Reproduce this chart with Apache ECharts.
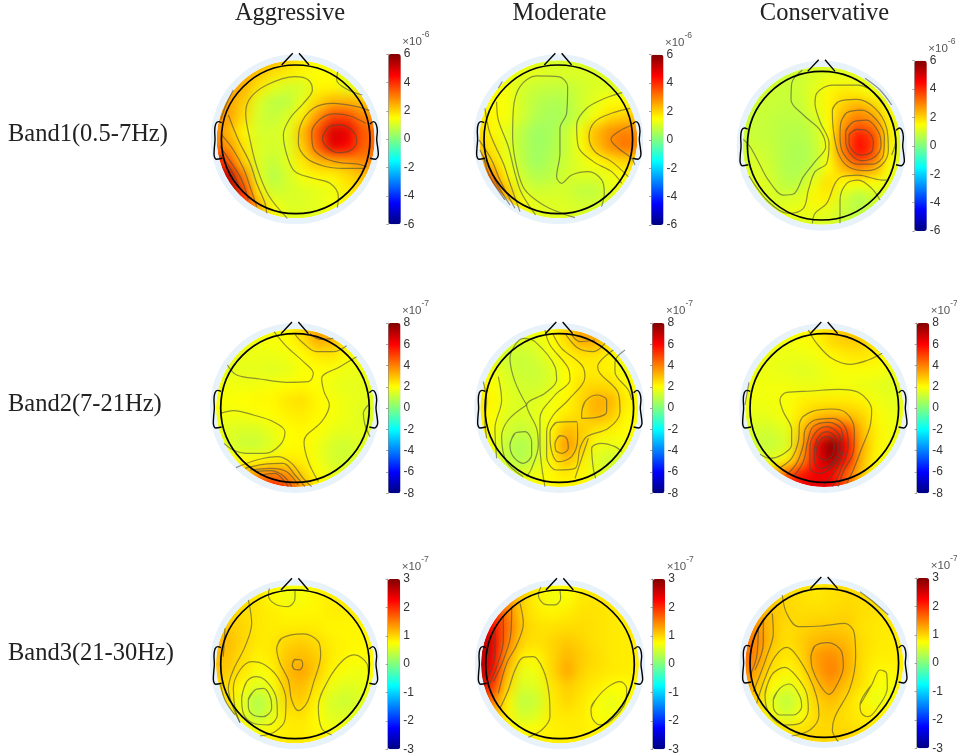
<!DOCTYPE html>
<html><head><meta charset="utf-8">
<style>html,body{margin:0;padding:0;background:#fff}#c{width:957px;height:756px}</style>
<script src="https://cdn.jsdelivr.net/npm/echarts@6/dist/echarts.min.js"></script>
</head><body><div id="c"></div>
<script>
var columnTitles=['Aggressive','Moderate','Conservative'];
var bandTitles=['Band1(0.5-7Hz)','Band2(7-21Hz)','Band3(21-30Hz)'];
var bandRanges=[6,8,3];
var bandTickSteps=[2,2,1];
var bandExponents=['-6','-7','-7'];

var map1=[[2.4,2.4,2.5,2.5,2.4,2.1,1.7,1.4,1.2,1.0,1.0,1.0],[2.6,2.6,2.6,2.2,1.9,1.7,1.6,1.5,1.5,1.2,1.0,1.0],[2.7,2.7,2.4,1.8,1.2,1.0,1.0,1.6,1.6,1.2,1.2,1.2],[2.8,2.6,2.1,1.1,.7,.7,1.3,2.0,2.4,2.4,2.2,2.2],[2.9,2.6,1.9,1.0,.8,1.1,1.7,2.8,3.7,3.7,3.0,2.6],[3.0,2.3,1.6,1.0,1.0,1.2,2.3,3.6,5.0,4.8,3.5,3.2],[3.2,2.7,1.8,1.1,1.0,1.1,2.1,3.4,4.8,4.5,3.4,3.2],[4.5,3.5,2.0,1.1,.8,1.2,1.8,2.3,2.5,2.6,2.9,3.0],[5.5,5.2,3.0,1.2,.6,1.0,1.4,1.6,1.6,1.9,2.2,2.4],[6,5.8,3.8,1.7,.9,1.0,1.1,1.2,1.3,1.7,2,2],[6,5.5,4.2,2.4,1.4,1.1,1.1,1.2,1.4,1.6,1.6,1.6],[5,5,4,2.6,1.6,1.2,1.2,1.2,1.4,1.5,1.5,1.5]];
var map2=[[1.2,1.2,1.2,1.2,1.1,1,1,1,1,1,1,1],[1.3,1.3,1.3,1.3,1.2,1.1,1.1,1.1,1.1,1.1,1.1,1.1],[1.5,1.5,1.4,1.0,.85,.8,.8,.95,1.1,1.1,1.1,1.1],[1.6,1.5,1.4,1.0,.7,.55,.6,.95,1.2,1.5,1.5,1.4],[1.7,1.6,1.4,1.0,.6,.45,.55,.9,1.4,1.9,2.1,2.1],[2,1.6,1.2,.7,.35,.45,.8,1.4,2.3,2.8,3.0,2.8],[2.2,1.8,1.2,.7,.35,.5,.8,1.4,2.2,2.8,3.2,2.9],[2.7,2.0,1.3,.75,.35,.6,.9,1.2,1.5,1.8,2.0,1.9],[4,3,1.6,.95,.6,.7,1.0,1.1,1.1,1.3,1.5,1.5],[4.6,3.8,2.2,1.2,.95,1.0,1.0,.75,.75,1.2,1.3,1.3],[3.6,3,2.4,1.6,1.2,1.1,1.1,1.0,1.0,1.1,1.1,1.1],[2,2,1.8,1.4,1.2,1.2,1.2,1.1,1.1,1.1,1.1,1.1]];
var map3=[[1,1,1,1,1,1,1,1,.95,.9,.9,.9],[1,1,.95,.9,.9,1.1,1.3,1.3,1.2,1.0,.9,.9],[.95,.95,.9,.85,.9,1.2,1.6,1.8,1.7,1.4,1,.9],[.9,.9,.85,.8,.8,1.2,1.6,2.2,2.6,2.2,1.4,1],[.9,.85,.8,.7,.7,.9,1.5,2.7,3.3,3.0,1.7,1.1],[.9,.85,.8,.65,.6,.8,1.5,3.1,4.4,3.8,1.7,1.1],[.9,1.0,.85,.65,.5,.7,1.4,3.1,4.4,3.7,1.6,1],[1,1.1,.95,.6,.55,.8,1.5,2.4,3,2.6,1.5,1],[1.1,1.2,1.05,.7,.7,1.3,1.9,1.5,1.5,1.5,1.2,1],[1.1,1.2,1.1,1.0,1.1,1.6,1.7,1.0,.6,.9,1.1,1],[1,1,1,1.3,1.3,1.3,1.2,.85,.7,.85,.85,.85],[.9,.9,.9,1,1,1,1,.9,.85,.85,.85,.85]];
var map4=[[1.8,1.8,1.8,1.8,1.9,2.1,2.7,3.5,3.5,2.7,2.1,2.1],[1.8,1.8,1.8,1.8,1.9,2,2.4,3.3,3.1,2.3,2,2],[1.8,1.7,1.7,1.7,1.7,1.8,2,2.3,2.4,2,1.8,1.8],[1.8,1.6,1.6,1.6,1.5,1.6,1.9,2,1.9,1.7,1.7,1.7],[1.9,1.8,1.8,1.8,1.9,2,2.1,2,1.7,1.6,1.6,1.6],[1.9,1.9,2,2.1,2.1,2.4,2.5,2.1,1.9,1.7,1.6,1.5],[1.9,1.8,1.8,1.9,2,2.2,2.3,2.1,1.9,1.7,1.5,1.4],[1.8,1.5,1.4,1.4,1.7,2,2.1,2,1.7,1.6,1.6,1.5],[1.8,1.5,1.15,1.15,1.5,2,2.1,1.8,1.35,1.25,1.5,1.6],[2,2,2,2,2.2,2.3,2.2,1.8,1.35,1.25,1.6,1.7],[2.6,2.6,3.1,3.7,4.1,3.7,2.7,2,1.6,1.6,1.8,1.8],[4,4,4.6,5.2,5.8,5.2,3.6,2.3,1.9,1.9,1.9,1.9]];
var map5=[[1.9,1.9,1.9,1.9,1.9,2.1,2.7,3.5,3.7,2.9,2.1,2.1],[1.9,1.9,1.6,1.5,1.6,2,2.5,3.3,3.3,2.4,2.1,2.1],[2,1.7,1.15,1.15,1.35,1.8,2.2,2.4,2.4,2.1,1.8,1.9],[2.1,1.8,1.35,1.15,1.15,1.45,2,2.2,2.3,2.2,1.7,1.9],[2.2,2,1.5,1.3,1.25,1.5,2,2.5,2.6,2.5,2.1,1.9],[2.4,2.1,1.6,1.4,1.5,1.8,2.1,2.6,3.3,3.2,2.3,1.9],[2.4,2,1.5,1.4,1.6,1.9,2.3,2.6,3.2,2.9,2.1,1.9],[2.3,1.9,1.3,1.1,1.4,2.1,3.1,2.8,2.4,2.2,2,1.9],[2.2,1.8,1,.7,1.2,2.3,3.7,2.8,1.8,1.7,1.8,1.9],[2.1,1.8,1.1,.8,1.3,2.2,3.1,2.3,1.5,1.2,1.4,1.7],[2.1,2,1.5,1.5,1.8,2.1,2.3,2.1,1.6,1.4,1.6,1.7],[2.1,2.1,2,2,2,2.1,2.1,2.1,2,2,1.9,1.9]];
var map6=[[1.9,1.9,1.9,1.9,2,2.3,2.6,2.9,2.9,2.5,2.1,2.1],[1.8,1.8,1.8,1.8,1.9,2.1,2.6,2.8,2.8,2.4,2.1,2.1],[1.8,1.8,1.7,1.7,1.7,1.8,2.1,2.3,2.4,2.2,1.9,1.9],[1.8,1.7,1.7,1.6,1.5,1.6,1.8,1.9,1.9,1.9,1.7,1.7],[1.8,1.8,1.8,1.8,1.7,1.7,1.8,1.8,1.7,1.6,1.5,1.6],[1.8,1.8,1.8,1.9,2.2,2.3,2.3,2.3,2.2,1.8,1.6,1.6],[1.7,1.6,1.7,1.9,2.4,2.9,3.1,3,2.7,2.1,1.7,1.7],[1.6,1.3,1.3,1.6,2.9,4.6,5.2,5,3.1,2.2,1.8,1.7],[1.5,1.1,1.1,1.4,3.3,6.2,8,6.2,3.3,2.2,1.8,1.7],[1.7,1.6,1.6,2.1,3.7,6.2,7.5,5.8,3.1,2.1,1.6,1.5],[2.1,2.1,3.1,4.6,5.7,6.2,6,4.5,2.9,1.8,1.2,1.2],[3,3,4,5.6,6.4,6.6,6.2,4.6,3.1,2,1.5,1.5]];
var map7=[[.9,.9,.9,.9,.8,.7,.7,.8,.85,.85,.85,.85],[.95,.95,.95,.9,.75,.65,.7,.8,.85,.85,.85,.85],[1.0,1.0,.95,.9,.85,.8,.8,.8,.85,.85,.85,.85],[1.1,1.05,1.0,.88,.85,.85,.85,.85,.8,.8,.8,.8],[1.2,1.15,1.0,.88,.88,1.0,1.05,.95,.85,.8,.8,.8],[1.15,1.1,.95,.82,.88,1.1,1.15,1.05,.85,.8,.75,.8],[1.1,1.05,.9,.7,.8,1.15,1.3,1.05,.8,.7,.65,.75],[1.0,.95,.75,.55,.7,1.1,1.15,.9,.65,.55,.6,.75],[.95,.9,.6,.25,.55,1.0,1.05,.8,.5,.45,.55,.7],[.92,.9,.65,.35,.6,.88,.92,.75,.55,.55,.65,.75],[.9,.88,.8,.7,.8,.85,.85,.8,.7,.7,.75,.8],[.88,.88,.88,.88,.88,.88,.88,.88,.85,.85,.85,.85]];
var map8=[[1.6,1.6,1.4,1.1,.9,.78,.78,.8,.85,.85,.85,.85],[1.9,1.8,1.4,1.0,.8,.65,.72,.88,.9,.9,.85,.85],[2.2,2.0,1.5,1.0,.85,.8,.85,.92,.92,.88,.85,.85],[2.5,2.2,1.6,1.05,.92,.92,.95,.95,.92,.88,.85,.85],[2.8,2.4,1.5,1.0,.92,1.0,1.08,1.0,.92,.88,.85,.85],[2.8,2.3,1.3,.82,.8,1.0,1.18,1.05,.95,.88,.85,.85],[2.8,2.2,1.1,.62,.68,.98,1.28,1.0,.92,.88,.85,.82],[2.6,1.9,.95,.52,.58,.9,1.05,.92,.85,.75,.75,.8],[2.2,1.5,.8,.35,.45,.85,1.0,.88,.72,.62,.72,.8],[1.7,1.2,.8,.48,.58,.85,.88,.85,.72,.68,.75,.85],[1.3,1.0,.85,.75,.78,.82,.85,.85,.82,.82,.82,.85],[.95,.95,.85,.85,.85,.85,.85,.85,.85,.85,.85,.85]];
var map9=[[1.05,1.05,1,.95,.92,.88,.92,.95,.95,.95,.92,.92],[1.2,1.1,1.05,.95,.92,.88,.92,.95,.95,.92,.92,.92],[1.4,1.25,1.1,1,.95,.95,.95,1,.95,.92,.88,.88],[1.5,1.4,1.1,.95,1,1.05,1.05,1.05,.92,.88,.88,.88],[1.6,1.45,1.1,.92,1.05,1.15,1.2,1.15,.95,.88,.85,.85],[1.7,1.4,1,.88,1,1.35,1.42,1.25,.95,.85,.85,.85],[1.6,1.25,.92,.78,.92,1.3,1.52,1.25,.95,.8,.8,.85],[1.4,1.1,.75,.6,.8,1.15,1.35,1.1,.92,.72,.68,.8],[1.25,.98,.58,.35,.62,1.02,1.15,.98,.8,.62,.72,.85],[1.1,.98,.68,.48,.72,.98,1.02,.92,.85,.8,.85,.92],[1.02,1.02,.98,.88,.92,.98,.98,.98,.92,.92,.92,.92],[.98,.98,.98,.98,.98,.98,.98,.98,.92,.92,.92,.92]];

var contour1=[
[[262,535],[205,465],[170,380],[150,300],[137,220],[150,175],[200,135],[285,110],[325,120],[337,150],[310,190],[270,235],[250,285],[262,350],[285,395],[340,415],[390,430],[415,470],[412,503]],
[[413,95],[410,120],[445,150],[487,165]],
[[367,295],[385,262],[420,255],[460,275],[470,305],[450,332],[415,338],[385,325],[367,295]],
[[497,250],[450,228],[405,222],[360,238],[335,280],[340,325],[375,355],[420,368],[470,372],[500,380]],
[[508,212],[470,200],[400,190],[340,205],[300,260],[295,310],[320,355],[370,378],[430,385],[490,385]],
[[85,225],[115,300],[150,370],[170,430],[195,490],[200,520]],
[[65,285],[100,330],[130,385],[150,440],[170,500]],
[[60,320],[95,370],[125,420],[145,480]],
[[60,345],[90,385],[120,445]],
[[100,150],[80,190],[62,240]]];
var contour2=[
[[330,533],[290,520],[235,495],[180,450],[155,380],[143,290],[145,210],[165,140],[215,108],[280,110],[308,140],[305,220],[285,265],[285,340],[275,410],[290,430],[320,405],[370,395],[410,420],[418,460],[410,500]],
[[472,158],[420,175],[365,205],[335,255],[340,320],[385,365],[440,395],[470,430]],
[[495,205],[440,220],[390,245],[372,290],[390,335],[440,365],[490,410]],
[[502,255],[460,275],[438,298],[460,325],[500,355],[510,375]],
[[95,185],[100,240],[130,320],[150,400],[170,460],[212,525]],
[[60,205],[75,280],[115,370],[135,430],[165,515]],
[[42,300],[80,360],[105,420],[150,505]],
[[45,330],[75,390],[100,440],[135,495]],
[[55,350],[75,410],[120,480]],
[[112,125],[100,145]]];
var contour3=[
[[232,90],[200,130],[198,180],[235,225],[285,270],[302,320],[270,365],[235,410],[205,462],[175,465],[130,420],[100,365],[75,320],[55,298]],
[[500,345],[512,300],[495,230],[460,170],[400,135],[320,135],[275,160],[270,190],[285,245],[312,310],[305,370],[270,395],[250,450],[235,505],[190,520],[130,485],[72,408]],
[[262,550],[270,520],[305,490],[330,430],[350,410],[400,405],[470,420],[490,420]],
[[345,550],[345,480],[365,430],[400,420],[440,445],[465,480]],
[[322,210],[340,185],[395,178],[450,205],[485,265],[490,330],[470,375],[425,392],[370,380],[340,340],[325,270],[322,210]],
[[347,250],[365,218],[410,210],[455,240],[478,290],[475,345],[445,372],[395,372],[355,340],[345,290],[347,250]],
[[362,275],[385,245],[425,240],[460,275],[468,315],[450,350],[410,362],[375,340],[362,300],[362,275]],
[[372,285],[395,268],[425,272],[445,305],[440,335],[410,345],[385,335],[372,305],[372,285]],
[[420,115],[465,150],[500,195]]];
var contour4=[
[[222,80],[260,125],[310,170],[340,205],[325,230],[260,232],[180,222],[110,210],[82,180]],
[[285,88],[310,115],[350,140],[400,140],[440,122]],
[[330,85],[360,103],[400,100]],
[[470,155],[420,185],[365,220],[372,260],[388,300],[365,350],[320,390],[312,410],[325,470],[355,530]],
[[505,300],[490,325],[495,360],[510,395]],
[[62,325],[100,317],[160,330],[220,350],[255,380],[240,420],[195,445],[140,445],[100,435],[72,415]],
[[108,488],[170,465],[235,455],[275,475],[310,520],[335,545]],
[[135,490],[190,478],[250,475],[285,510],[315,545]],
[[150,495],[210,490],[260,500],[295,540]],
[[165,500],[210,497],[250,512],[275,545]],
[[180,510],[225,505],[255,530],[265,545]]];
var contour5=[
[[185,300],[150,230],[135,160],[150,120],[175,100],[210,110],[270,185],[275,225],[240,265],[185,300],[215,370],[220,420],[200,490],[185,515]],
[[185,300],[130,345],[110,395],[125,470],[175,515]],
[[240,75],[255,120],[310,190],[315,225],[270,270],[225,340],[225,420],[240,545]],
[[265,90],[290,130],[350,180],[360,215],[310,285],[265,330],[245,380],[245,455],[275,495],[330,490],[345,430],[365,395],[430,370],[465,320],[460,265],[405,205],[398,185],[445,135]],
[[350,325],[360,290],[395,270],[425,285],[425,320],[390,338],[350,340],[350,325]],
[[255,380],[275,352],[335,350],[338,400],[320,455],[280,470],[258,430],[255,380]],
[[270,415],[285,392],[305,400],[310,430],[290,445],[272,435],[270,415]],
[[135,420],[150,385],[180,380],[200,410],[200,450],[175,475],[145,455],[135,420]],
[[300,85],[340,130],[385,140],[420,115]],
[[318,85],[345,110],[390,105]],
[[480,135],[450,170],[450,200],[490,255],[500,285]],
[[392,520],[385,490],[380,430],[410,415],[450,425],[470,440]],
[[100,215],[110,285],[90,370],[95,460]],
[[55,230],[65,290],[60,350],[65,400]],
[[370,400],[345,475],[330,520]]];
var contour6=[
[[250,75],[275,115],[320,160],[375,178],[430,165],[472,145]],
[[105,448],[135,460],[170,450],[200,420],[200,375],[175,320],[165,285],[185,262],[260,258],[340,253],[400,262],[440,315],[435,365],[410,430],[385,495],[365,535]],
[[165,488],[200,460],[220,410],[225,350],[260,320],[320,312],[365,325],[388,375],[385,440],[355,500],[340,545]],
[[185,510],[215,475],[235,420],[240,375],[270,345],[325,340],[360,365],[370,420],[345,500],[322,545]],
[[205,515],[235,470],[248,410],[265,365],[310,352],[350,375],[355,430],[335,490],[295,540]],
[[255,490],[255,430],[270,385],[305,365],[340,385],[350,430],[325,480],[285,505],[255,490]],
[[268,440],[278,400],[305,380],[335,400],[340,435],[320,475],[285,490],[268,465],[268,440]],
[[275,430],[290,400],[310,395],[328,420],[322,450],[300,465],[280,455],[275,430]],
[[72,232],[60,300]]];
var contour7=[
[[208,85],[205,105],[225,132],[265,140],[285,115],[285,90]],
[[145,120],[155,190],[135,260],[100,330],[85,385],[120,488]],
[[75,205],[70,290]],
[[62,375],[75,420],[105,465]],
[[230,265],[245,235],[310,222],[355,245],[362,285],[340,370],[320,430],[295,452],[275,420],[265,360],[240,310],[230,265]],
[[277,313],[285,298],[303,300],[308,315],[298,330],[283,328],[277,313]],
[[180,528],[225,515],[255,480],[258,420],[235,355],[195,315],[155,305],[120,330],[100,385],[105,445],[120,488]],
[[125,415],[140,365],[170,350],[205,370],[230,420],[232,465],[205,495],[160,490],[130,460],[125,415]],
[[145,420],[165,390],[190,385],[212,415],[215,445],[190,470],[160,465],[145,440],[145,420]],
[[395,525],[365,505],[355,440],[385,360],[430,300],[465,285],[500,310],[505,340]]];
var contour8=[
[[228,80],[220,105],[240,133],[270,135],[287,115],[285,90]],
[[165,130],[175,190],[155,255],[125,310],[100,400]],
[[140,140],[137,225],[115,300],[85,365]],
[[115,170],[115,240],[95,320],[72,375]],
[[90,210],[90,280],[70,350]],
[[72,260],[65,320]],
[[190,532],[230,510],[255,470],[252,400],[235,330],[205,290],[175,292],[150,330],[130,390],[105,445]],
[[378,445],[395,415],[430,380],[465,365],[485,385],[480,430],[440,480],[405,495],[380,470],[378,445]]];
var contour9=[
[[172,105],[185,160],[220,200],[290,198],[360,190],[388,220],[392,290],[375,385],[330,470],[322,510],[340,545]],
[[258,290],[270,258],[310,248],[350,275],[355,320],[330,385],[312,403],[285,375],[262,325],[258,290]],
[[200,528],[255,510],[282,465],[275,410],[250,345],[210,280],[185,262],[150,290],[120,355],[95,430]],
[[120,405],[140,345],[180,322],[215,350],[245,400],[250,450],[225,490],[180,495],[135,465],[120,405]],
[[145,420],[165,385],[195,372],[225,410],[230,440],[205,465],[165,465],[145,440],[145,420]],
[[405,435],[440,375],[465,330],[485,340],[487,385],[460,440],[430,470],[410,460],[405,435]],
[[142,160],[145,220],[125,290],[105,345],[85,395]],
[[115,175],[115,250],[90,330]],
[[100,205],[95,290],[78,340]],
[[405,95],[445,125],[490,165]]];

var noseLeft=[[-42,-223],[-9,-258]];
var noseRight=[[10,-258],[40,-223]];
var earLeft=[[-222,-50],[-232,-53],[-240,-46],[-243,-25],[-242,0],[-244,25],[-245,45],[-238,60],[-220,57]];
var earRight=[[223,-46],[233,-53],[241,-46],[245,-25],[243,0],[246,25],[248,45],[239,60],[223,57]];

var allMaps=[map1,map2,map3,map4,map5,map6,map7,map8,map9];
var allContours=[contour1,contour2,contour3,contour4,contour5,contour6,contour7,contour8,contour9];

// layout (pixels) -------------------------------------------------
var centers=[[295.7,139.3],[558.3,139.3],[821.7,145.7],[295,408],[559.3,408],[824.3,408],[295,664.3],[560,664.3],[824.3,663]];
var origins=[[287,298],[280,298],[290,317],[285,309],[283,309],[298,309],[285,313],[285,313],[298,309]];
var bars=[[388.3,54],[651,54.7],[914.3,60.7],[388,323],[652,323],[916.7,323],[387.7,579],[652.7,579],[916.7,578]];
var BAR_W=12.5,BAR_H=170.3,HALF=89,TRACE_HALF=267;
var jet=['#000080','#0000ff','#0080ff','#00ffff','#80ff80','#ffff00','#ff8000','#ff0000','#800000'];
var idx=[0,1,2,3,4,5,6,7,8,9,10,11];

function closeLoop(pts){
  var a=pts[0],z=pts[pts.length-1];
  if(a[0]===z[0]&&a[1]===z[1]){return pts.concat([pts[1]]);}
  return pts;
}

var grid=[],xAxis=[],yAxis=[],series=[],visualMap=[];
allMaps.forEach(function(rows,m){
  var c=centers[m],o=origins[m],b=bars[m],band=Math.floor(m/3),R=bandRanges[band];
  var g=grid.length;
  grid.push({left:c[0]-HALF,top:c[1]-HALF,width:2*HALF,height:2*HALF,outerBoundsMode:'none'});
  xAxis.push({gridIndex:g,type:'category',data:idx,show:false});
  yAxis.push({gridIndex:g,type:'category',data:idx,inverse:true,show:false});
  var d=[];
  rows.forEach(function(r,j){r.forEach(function(v,i){d.push([i,j,v]);});});
  var heatIndex=series.length;
  series.push({type:'heatmap',xAxisIndex:g,yAxisIndex:g,data:d,zlevel:-1,silent:true,itemStyle:{borderWidth:0},emphasis:{disabled:true},progressive:0});
  visualMap.push({type:'continuous',seriesIndex:heatIndex,min:-R,max:R,dimension:2,inRange:{color:jet},left:b[0],top:b[1],itemWidth:BAR_W,itemHeight:BAR_H,padding:0,text:null,calculable:false,hoverLink:false,showLabel:false,z:8});
  var g2=grid.length;
  grid.push({left:c[0]-HALF,top:c[1]-HALF,width:2*HALF,height:2*HALF,outerBoundsMode:'none'});
  xAxis.push({gridIndex:g2,type:'value',min:o[0]-TRACE_HALF,max:o[0]+TRACE_HALF,show:false});
  yAxis.push({gridIndex:g2,type:'value',inverse:true,min:o[1]-TRACE_HALF,max:o[1]+TRACE_HALF,show:false});
  series.push({type:'scatter',xAxisIndex:g2,yAxisIndex:g2,data:[[o[0],o[1]]],symbolSize:229,silent:true,clip:false,z:2,itemStyle:{color:'transparent',borderColor:'#fff',borderWidth:71,opacity:1}});
  series.push({type:'scatter',xAxisIndex:g2,yAxisIndex:g2,data:[[o[0],o[1]]],symbolSize:164,silent:true,clip:false,z:3,itemStyle:{color:'transparent',borderColor:'#e8f2fb',borderWidth:6,opacity:1}});
  allContours[m].forEach(function(pts){
    series.push({type:'line',xAxisIndex:g2,yAxisIndex:g2,data:closeLoop(pts),smooth:0.35,showSymbol:false,symbol:'none',silent:true,clip:false,z:4,lineStyle:{color:'rgba(75,75,60,0.6)',width:1.2}});
  });
  series.push({type:'scatter',xAxisIndex:g2,yAxisIndex:g2,data:[[o[0],o[1]]],symbolSize:148.6,silent:true,clip:false,z:5,itemStyle:{color:'transparent',borderColor:'#000',borderWidth:1.7,opacity:1}});
  [noseLeft,noseRight,earLeft,earRight].forEach(function(s,k){
    series.push({type:'line',xAxisIndex:g2,yAxisIndex:g2,data:s.map(function(p){return [p[0]+o[0],p[1]+o[1]];}),smooth:k>1?0.35:0,symbol:'none',silent:true,clip:false,z:5,lineStyle:{color:'#000',width:1.4}});
  });
  var g3=grid.length;
  grid.push({left:b[0],top:b[1],width:BAR_W,height:BAR_H,z:9,outerBoundsMode:'none'});
  xAxis.push({gridIndex:g3,type:'value',show:false,min:0,max:1});
  yAxis.push({gridIndex:g3,type:'value',position:'right',min:-R,max:R,interval:bandTickSteps[band],z:9,
    name:'{a|\u00d710}{b|'+bandExponents[band]+'}',nameLocation:'end',nameGap:0,
    nameTextStyle:{align:'left',verticalAlign:'middle',padding:[0,0,12,14],rich:{a:{fontSize:11.5,color:'#555',fontFamily:'Liberation Sans',padding:[6,0,0,0]},b:{fontSize:8.5,color:'#555',fontFamily:'Liberation Sans',verticalAlign:'top',padding:[0,0,4,0]}}},
    axisLine:{show:true,lineStyle:{color:'#888',width:.6}},
    axisTick:{show:true,inside:true,length:2,lineStyle:{color:'#666',width:.6}},
    splitLine:{show:false},
    axisLabel:{margin:3,fontSize:12,color:'#333',fontFamily:'Liberation Sans',showMinLabel:true,showMaxLabel:true}});
});

var serif='Liberation Serif';
var titles=[];
var colX=[290,559.5,824.5],bandY=[136,406,655];
columnTitles.forEach(function(t,i){titles.push({text:t,left:colX[i],top:1,textAlign:'center',textStyle:{fontFamily:serif,fontWeight:'normal',fontSize:24.5,color:'#222'},padding:0,z:10});});
bandTitles.forEach(function(t,i){titles.push({text:t,left:8,top:bandY[i]-14,textStyle:{fontFamily:serif,fontWeight:'normal',fontSize:24.5,color:'#222'},padding:0,z:10});});

var chart=echarts.init(document.getElementById('c'),null,{renderer:'canvas'});
chart.setOption({animation:false,backgroundColor:'transparent',title:titles,tooltip:{show:false},grid:grid,xAxis:xAxis,yAxis:yAxis,visualMap:visualMap,series:series});
var layer=chart.getZr().painter.getLayer(-1);
if(layer&&layer.dom){layer.dom.style.filter='blur(6px)';}
</script></body></html>
